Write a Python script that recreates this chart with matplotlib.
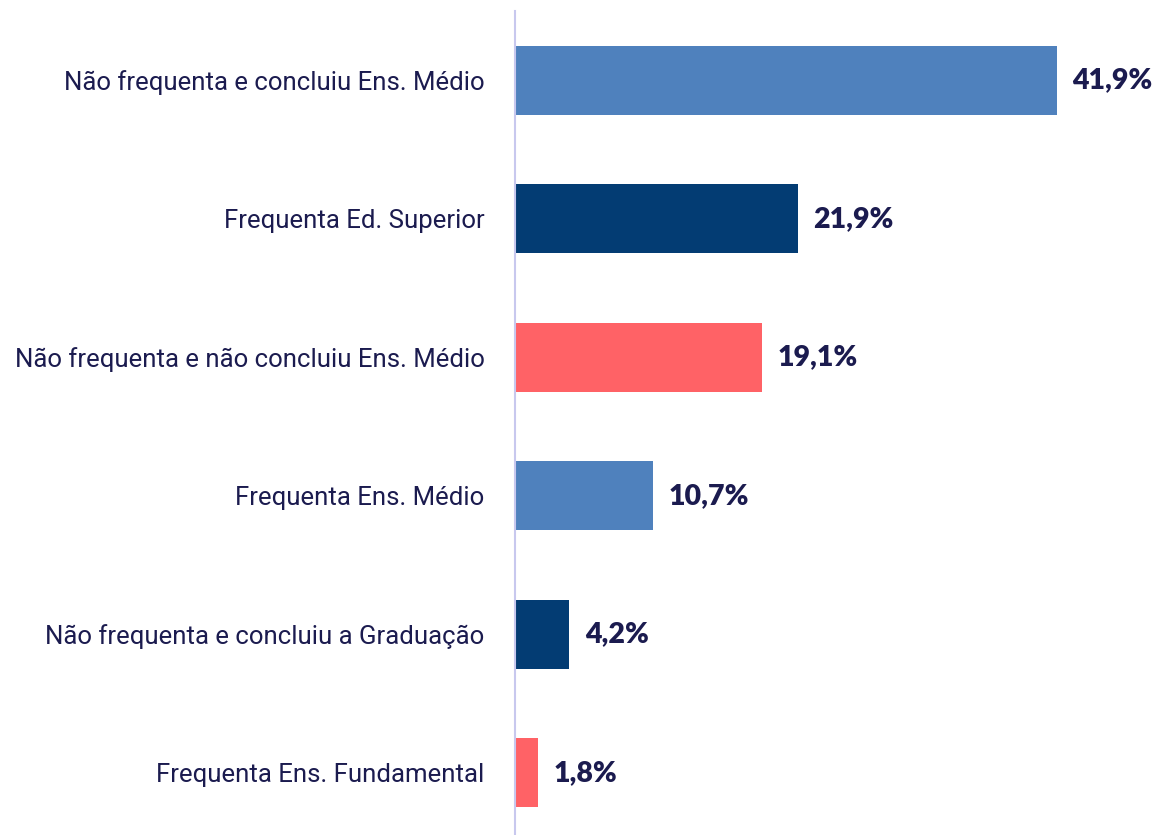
import matplotlib.pyplot as plt

categories = [
    "Não frequenta e concluiu Ens. Médio",
    "Frequenta Ed. Superior",
    "Não frequenta e não concluiu Ens. Médio",
    "Frequenta Ens. Médio",
    "Não frequenta e concluiu a Graduação",
    "Frequenta Ens. Fundamental",
]
values = [41.9, 21.9, 19.1, 10.7, 4.2, 1.8]
value_labels = ["41,9%", "21,9%", "19,1%", "10,7%", "4,2%", "1,8%"]
colors = ["#4f81bd", "#033c73", "#ff6266", "#4f81bd", "#033c73", "#ff6266"]

text_color = "#1b1b4f"

fig = plt.figure(figsize=(11.58, 8.35), dpi=100)
ax = fig.add_axes([515 / 1158, -7 / 835, (1158 - 515) / 1158, 831 / 835])

y = list(range(len(categories)))
ax.barh(y, values, height=0.5, color=colors)
ax.set_ylim(5.5, -0.5)
ax.set_xlim(0, 49.7)

for yi, v, lab in zip(y, values, value_labels):
    ax.annotate(lab, (v, yi), xytext=(11, 0), textcoords="offset points",
                va="center", ha="left", fontsize=20.5, fontweight="heavy",
                color=text_color, family=["Lato", "DejaVu Sans"])

ax.set_yticks(y)
ax.set_yticklabels(categories, fontsize=18.5, color=text_color,
                   family=["Roboto", "DejaVu Sans"])
ax.tick_params(axis="y", length=0, pad=22)
ax.set_xticks([])

for s in ["top", "right", "bottom"]:
    ax.spines[s].set_visible(False)
ax.spines["left"].set_color("#c8c8ee")
ax.spines["left"].set_linewidth(1.5)
ax.patch.set_alpha(0)

fig.savefig("out.png", dpi=100)
